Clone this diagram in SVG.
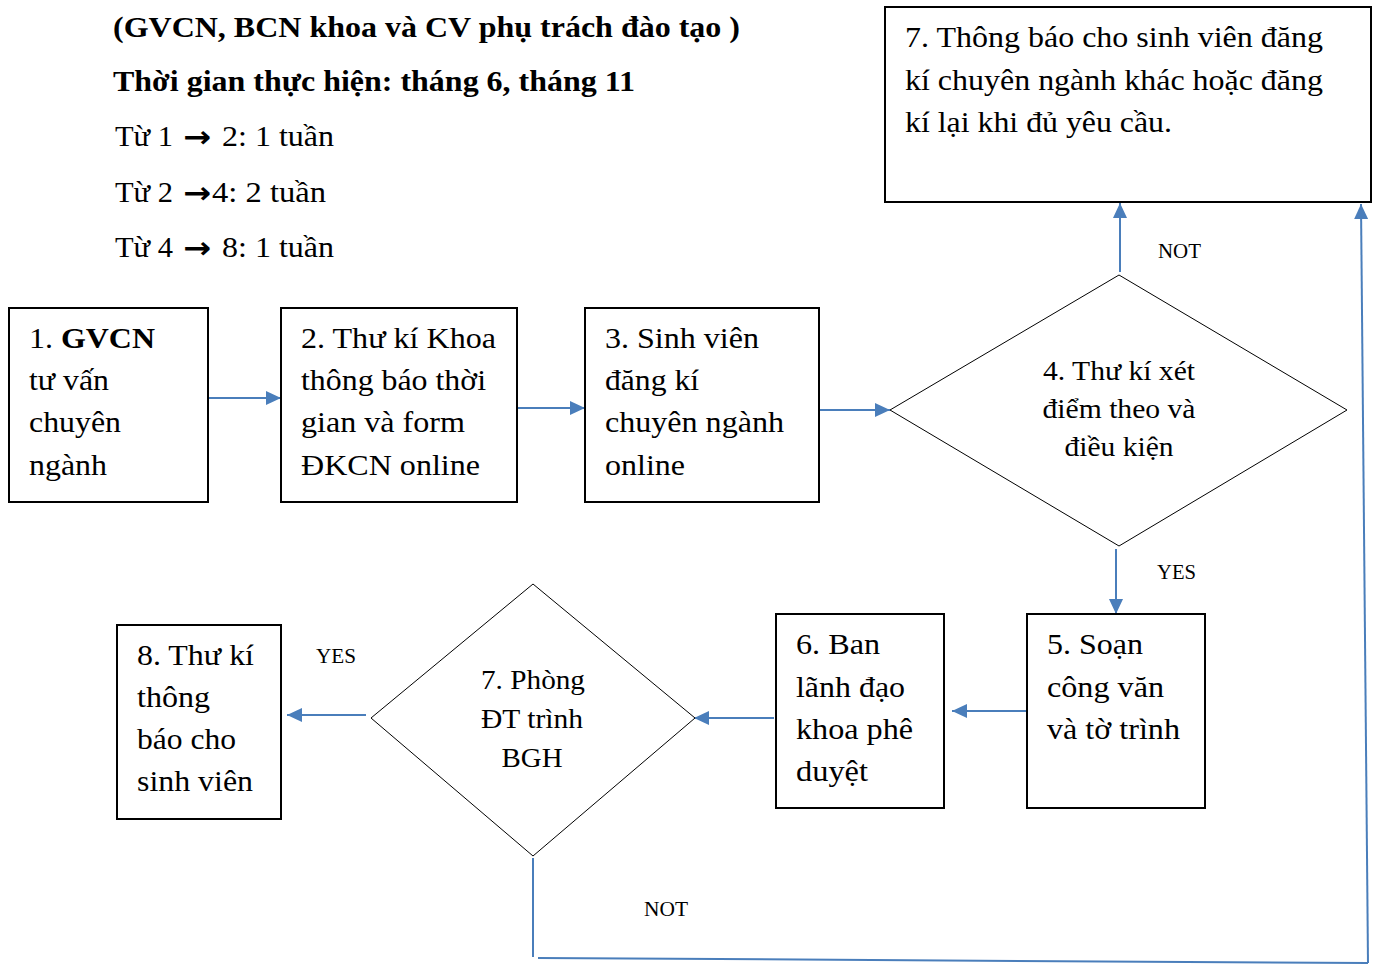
<svg xmlns="http://www.w3.org/2000/svg" width="1379" height="964" viewBox="0 0 1379 964">
  <style>
    .t { font-family: "Liberation Serif", "Times New Roman", serif; font-size: 30px; fill: #000; }
    .h { font-weight: bold; }
    .ar { font-family: "Noto Sans", "DejaVu Sans", sans-serif; font-weight: bold; font-size: 30px; fill: #000; }
    .d { font-family: "Liberation Serif", "Times New Roman", serif; font-size: 28px; fill: #000; text-anchor: middle; }
    .lbl { font-family: "Liberation Serif", "Times New Roman", serif; font-size: 20px; fill: #000; }
    .box { fill: #fff; stroke: #000; stroke-width: 2; }
    .dia { fill: #fff; stroke: #000; stroke-width: 1; }
    .c { fill: none; stroke: #4a7ebb; stroke-width: 2; }
    .ca { fill: none; stroke: #4a7ebb; stroke-width: 2; marker-end: url(#ah); }
  </style>
  <defs>
    <marker id="ah" markerUnits="userSpaceOnUse" markerWidth="16" markerHeight="14" refX="15" refY="7" orient="auto">
      <path d="M0,0 L15,7 L0,14 Z" fill="#4a7ebb"/>
    </marker>
  </defs>
  <rect width="1379" height="964" fill="#fff"/>

  <!-- heading and durations -->
  <g id="header">
    <text class="t h" x="113" y="37" textLength="627" lengthAdjust="spacingAndGlyphs">(GVCN, BCN khoa và CV phụ trách đào tạo )</text>
    <text class="t h" x="113" y="91" textLength="522" lengthAdjust="spacingAndGlyphs">Thời gian thực hiện: tháng 6, tháng 11</text>
    <text class="t" x="115" y="146" textLength="58" lengthAdjust="spacingAndGlyphs">Từ 1</text>
    <text class="ar" x="183" y="147" textLength="28" lengthAdjust="spacingAndGlyphs">→</text>
    <text class="t" x="222" y="146" textLength="112" lengthAdjust="spacingAndGlyphs">2: 1 tuần</text>
    <text class="t" x="115" y="202" textLength="58" lengthAdjust="spacingAndGlyphs">Từ 2</text>
    <text class="ar" x="183" y="203" textLength="28" lengthAdjust="spacingAndGlyphs">→</text>
    <text class="t" x="212" y="202" textLength="114" lengthAdjust="spacingAndGlyphs">4: 2 tuần</text>
    <text class="t" x="115" y="257" textLength="58" lengthAdjust="spacingAndGlyphs">Từ 4</text>
    <text class="ar" x="183" y="258" textLength="28" lengthAdjust="spacingAndGlyphs">→</text>
    <text class="t" x="222" y="257" textLength="112" lengthAdjust="spacingAndGlyphs">8: 1 tuần</text>
  </g>

  <!-- connectors -->
  <g id="connectors">
    <line class="ca" x1="209" y1="398" x2="281" y2="398"/>
    <line class="ca" x1="517" y1="408" x2="585" y2="408"/>
    <line class="ca" x1="819" y1="410" x2="890" y2="410"/>
    <line class="ca" x1="1120" y1="272" x2="1120" y2="203"/>
    <line class="ca" x1="1116" y1="549" x2="1116" y2="614"/>
    <line class="ca" x1="1030" y1="711" x2="952" y2="711"/>
    <line class="ca" x1="774" y1="718" x2="694" y2="718"/>
    <line class="ca" x1="366" y1="715" x2="287" y2="715"/>
    <line class="c" x1="533" y1="858" x2="533" y2="957"/>
    <line class="c" x1="538" y1="958" x2="1368" y2="963"/>
    <line class="ca" x1="1368" y1="963" x2="1361" y2="204"/>
    <text class="lbl" x="1158" y="258" textLength="43" lengthAdjust="spacingAndGlyphs">NOT</text>
    <text class="lbl" x="1157" y="579" textLength="39" lengthAdjust="spacingAndGlyphs">YES</text>
    <text class="lbl" x="316" y="663" textLength="40" lengthAdjust="spacingAndGlyphs">YES</text>
    <text class="lbl" x="644" y="916" textLength="44" lengthAdjust="spacingAndGlyphs">NOT</text>
  </g>

  <g id="n1">
    <rect class="box" x="9" y="308" width="199" height="194"/>
    <text class="t" x="29" y="348" textLength="126" lengthAdjust="spacingAndGlyphs">1. <tspan class="h">GVCN</tspan></text>
    <text class="t" x="29" y="390" textLength="80" lengthAdjust="spacingAndGlyphs">tư vấn</text>
    <text class="t" x="29" y="432" textLength="92" lengthAdjust="spacingAndGlyphs">chuyên</text>
    <text class="t" x="29" y="475" textLength="78" lengthAdjust="spacingAndGlyphs">ngành</text>
  </g>

  <g id="n2">
    <rect class="box" x="281" y="308" width="236" height="194"/>
    <text class="t" x="301" y="348" textLength="195" lengthAdjust="spacingAndGlyphs">2. Thư kí Khoa</text>
    <text class="t" x="301" y="390" textLength="185" lengthAdjust="spacingAndGlyphs">thông báo thời</text>
    <text class="t" x="301" y="432" textLength="164" lengthAdjust="spacingAndGlyphs">gian và form</text>
    <text class="t" x="301" y="475" textLength="179" lengthAdjust="spacingAndGlyphs">ĐKCN online</text>
  </g>

  <g id="n3">
    <rect class="box" x="585" y="308" width="234" height="194"/>
    <text class="t" x="605" y="348" textLength="154" lengthAdjust="spacingAndGlyphs">3. Sinh viên</text>
    <text class="t" x="605" y="390" textLength="94" lengthAdjust="spacingAndGlyphs">đăng kí</text>
    <text class="t" x="605" y="432" textLength="179" lengthAdjust="spacingAndGlyphs">chuyên ngành</text>
    <text class="t" x="605" y="475" textLength="80" lengthAdjust="spacingAndGlyphs">online</text>
  </g>

  <g id="n4">
    <polygon class="dia" points="890,410 1119,275 1347,410 1119,546"/>
    <text class="d" x="1119" y="380" textLength="152" lengthAdjust="spacingAndGlyphs">4. Thư kí xét</text>
    <text class="d" x="1119" y="418" textLength="153" lengthAdjust="spacingAndGlyphs">điểm theo và</text>
    <text class="d" x="1119" y="456" textLength="109" lengthAdjust="spacingAndGlyphs">điều kiện</text>
  </g>

  <g id="n7a">
    <rect class="box" x="885" y="7" width="486" height="195"/>
    <text class="t" x="905" y="47" textLength="418" lengthAdjust="spacingAndGlyphs">7. Thông báo cho sinh viên đăng</text>
    <text class="t" x="905" y="90" textLength="418" lengthAdjust="spacingAndGlyphs">kí chuyên ngành khác hoặc đăng</text>
    <text class="t" x="905" y="132" textLength="267" lengthAdjust="spacingAndGlyphs">kí lại khi đủ yêu cầu.</text>
  </g>

  <g id="n5">
    <rect class="box" x="1027" y="614" width="178" height="194"/>
    <text class="t" x="1047" y="654" textLength="96" lengthAdjust="spacingAndGlyphs">5. Soạn</text>
    <text class="t" x="1047" y="697" textLength="117" lengthAdjust="spacingAndGlyphs">công văn</text>
    <text class="t" x="1047" y="739" textLength="133" lengthAdjust="spacingAndGlyphs">và tờ trình</text>
  </g>

  <g id="n6">
    <rect class="box" x="776" y="614" width="168" height="194"/>
    <text class="t" x="796" y="654" textLength="84" lengthAdjust="spacingAndGlyphs">6. Ban</text>
    <text class="t" x="796" y="697" textLength="109" lengthAdjust="spacingAndGlyphs">lãnh đạo</text>
    <text class="t" x="796" y="739" textLength="117" lengthAdjust="spacingAndGlyphs">khoa phê</text>
    <text class="t" x="796" y="781" textLength="72" lengthAdjust="spacingAndGlyphs">duyệt</text>
  </g>

  <g id="n7b">
    <polygon class="dia" points="371,718 533,584 695,718 533,856"/>
    <text class="d" x="533" y="689" textLength="104" lengthAdjust="spacingAndGlyphs">7. Phòng</text>
    <text class="d" x="532" y="728" textLength="102" lengthAdjust="spacingAndGlyphs">ĐT trình</text>
    <text class="d" x="532" y="767" textLength="61" lengthAdjust="spacingAndGlyphs">BGH</text>
  </g>

  <g id="n8">
    <rect class="box" x="117" y="625" width="164" height="194"/>
    <text class="t" x="137" y="665" textLength="117" lengthAdjust="spacingAndGlyphs">8. Thư kí</text>
    <text class="t" x="137" y="707" textLength="73" lengthAdjust="spacingAndGlyphs">thông</text>
    <text class="t" x="137" y="749" textLength="99" lengthAdjust="spacingAndGlyphs">báo cho</text>
    <text class="t" x="137" y="791" textLength="116" lengthAdjust="spacingAndGlyphs">sinh viên</text>
  </g>
</svg>
